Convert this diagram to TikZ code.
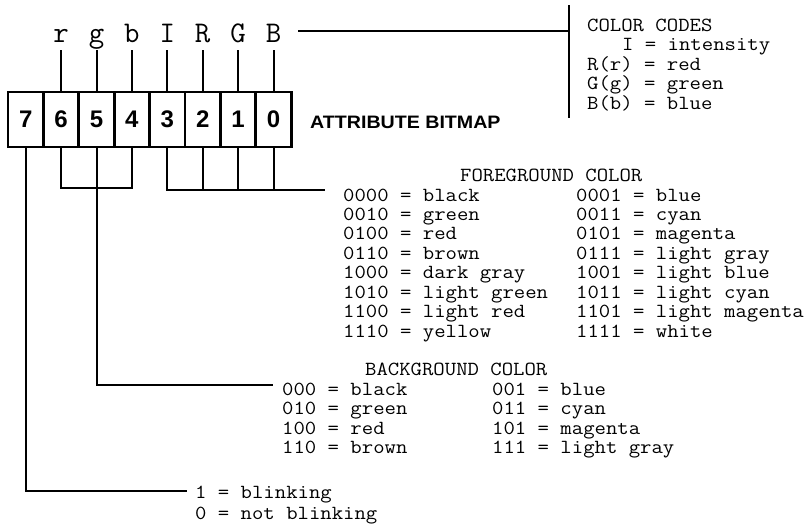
\documentclass[tikz,border=0pt]{standalone}
\usepackage{fontspec}
\usepackage{graphicx}
\setmainfont{Liberation Serif}
\newfontfamily\sansf{Liberation Sans}
\newcommand{\mt}[1]{\scalebox{1.105}[1]{#1}}
\begin{document}
\begin{tikzpicture}[x=1pt,y=-1pt,
  bitbox/.style={draw, line width=2.8pt, minimum width=35.4pt, minimum height=55pt, inner sep=0pt,
    font=\sansf\bfseries\fontsize{24}{24}\selectfont},
  biglabel/.style={font=\ttfamily\fontsize{30}{30}\selectfont, anchor=base, inner xsep=0pt,
    inner ysep=8pt, text depth=0pt},
  txt/.style={font=\ttfamily\fontsize{20}{20}\selectfont,
    anchor=base west, inner sep=0pt, text height=10pt, text depth=2pt},
  wire/.style={line width=2pt}]
\fill[white] (0,0) rectangle (809,525);
\useasboundingbox (0,0) rectangle (809,525);

% bit boxes
\foreach \b [count=\i from 0] in {7,6,5,4,3,2,1,0}
  \node[bitbox] (b\b) at ({8+35.4*(\i+0.5)},119.5) {\b};

% letter labels above
\foreach \b/\t in {6/r,5/g,4/b,3/I,2/R,1/G,0/B}
  \node[biglabel] (l\b) at (b\b |- 0,42) {\t};
\foreach \b in {6,5,4,3,2,1,0}
  \draw[wire] (l\b.south) -- (b\b.north);

% color codes bracket
\coordinate (ctop) at (569,5);
\coordinate (cbot) at (569,118);
\draw[wire, line width=2.5pt] (ctop) -- (cbot);
\coordinate (cstart) at (298,31);
\draw[wire] (cstart) -- (cstart -| ctop);

\node[anchor=base west, inner sep=0pt, font=\sansf\bfseries\fontsize{18}{18}\selectfont] (attr)
  at (310,128) {\scalebox{1.09}[1]{ATTRIBUTE BITMAP}};

\node[txt] (cc1) at (587,31) {\mt{COLOR CODES}};
\node[txt] (cc2) at (622,50.5) {\mt{I = intensity}};
\node[txt] (cc3) at (587,70) {\mt{R(r) = red}};
\node[txt] (cc4) at (587,89.5) {\mt{G(g) = green}};
\node[txt] (cc5) at (587,109) {\mt{B(b) = blue}};

% foreground connectors
\coordinate (fgend) at (325,190);
\draw[wire] (b3.south) |- (fgend);
\foreach \b in {2,1,0}
  \draw[wire] (b\b.south) -- (b\b.south |- fgend);

\node[txt] (fgt) at (460,181) {\mt{FOREGROUND COLOR}};
\foreach \a/\c/\d/\e [count=\k from 0] in {
  0000/black/0001/blue,
  0010/green/0011/cyan,
  0100/red/0101/magenta,
  0110/brown/0111/light gray,
  1000/dark gray/1001/light blue,
  1010/light green/1011/light cyan,
  1100/light red/1101/light magenta,
  1110/yellow/1111/white}{
  \node[txt] (fga\k) at (343,{201+19.43*\k}) {\mt{\a{} = \c}};
  \node[txt] (fgb\k) at (576,{201+19.43*\k}) {\mt{\d{} = \e}};
}

% background connectors
\draw[wire] (b6.south) -- (b6.south |- 0,188) -- (b4.south |- 0,188) -- (b4.south);
\coordinate (bgend) at (273,385);
\draw[wire] (b5.south) |- (bgend);

\node[txt] (bgt) at (365,375) {\mt{BACKGROUND COLOR}};
\foreach \a/\c/\d/\e [count=\k from 0] in {
  000/black/001/blue,
  010/green/011/cyan,
  100/red/101/magenta,
  110/brown/111/light gray}{
  \node[txt] (bga\k) at (282,{395+19.6*\k}) {\mt{\a{} = \c}};
  \node[txt] (bgb\k) at (492,{395+19.6*\k}) {\mt{\d{} = \e}};
}

% blinking
\coordinate (blend) at (187,491);
\draw[wire] (b7.south) |- (blend);
\node[txt] (bl1) at (195,498) {\mt{1 = blinking}};
\node[txt] (bl2) at (195,519.5) {\mt{0 = not blinking}};
\end{tikzpicture}
\end{document}
